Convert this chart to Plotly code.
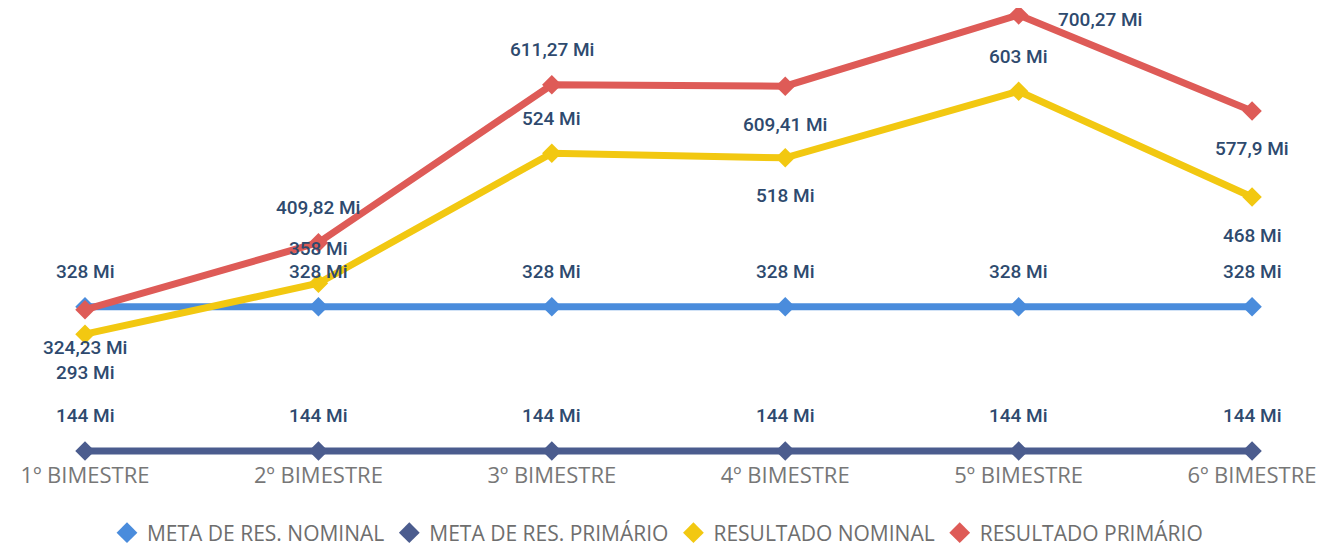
import plotly.graph_objects as go

# categorias e valores (em milhões)
bimestres = ["1º BIMESTRE", "2º BIMESTRE", "3º BIMESTRE", "4º BIMESTRE", "5º BIMESTRE", "6º BIMESTRE"]
meta_nominal = [328, 328, 328, 328, 328, 328]
meta_primario = [144, 144, 144, 144, 144, 144]
resultado_nominal = [293, 358, 524, 518, 603, 468]
resultado_primario = [324.23, 409.82, 611.27, 609.41, 700.27, 577.9]

# onde fica o rótulo de cada ponto
pos_meta_nominal = ["up"] * 6
pos_meta_primario = ["up"] * 6
pos_res_nominal = ["down", "up", "up", "down", "up", "down"]
pos_res_primario = ["down", "up", "up", "down", "right", "down"]

series = [
    ("META DE RES. NOMINAL", meta_nominal, "#4A8CDC", pos_meta_nominal),
    ("META DE RES. PRIMÁRIO", meta_primario, "#4B5C8E", pos_meta_primario),
    ("RESULTADO NOMINAL", resultado_nominal, "#F2C811", pos_res_nominal),
    ("RESULTADO PRIMÁRIO", resultado_primario, "#DE5B57", pos_res_primario),
]


def fmt(v):
    s = ("%.2f" % v).rstrip("0").rstrip(".")
    return s.replace(".", ",") + " Mi"


fig = go.Figure()
annotations = []
label_font = dict(family="Roboto", size=19, color="#2E4A6E", weight=500)

for name, vals, cor, pos in series:
    fig.add_trace(go.Scatter(
        x=list(range(len(bimestres))), y=vals, mode="lines+markers",
        line=dict(color=cor, width=7),
        marker=dict(symbol="diamond", size=15, color=cor),
        showlegend=False, hoverinfo="skip", cliponaxis=False,
    ))
    # só para a legenda (losango sem linha)
    fig.add_trace(go.Scatter(
        x=[None], y=[None], mode="markers", name=name,
        marker=dict(symbol="diamond", size=18, color=cor),
    ))
    for i, (v, p) in enumerate(zip(vals, pos)):
        a = dict(x=i, y=v, xref="x", yref="y", text=fmt(v), showarrow=False,
                 font=label_font, yanchor="middle")
        if p == "up":
            a["yshift"] = 35
        elif p == "down":
            a["yshift"] = -38
        else:
            a["xanchor"] = "left"
            a["xshift"] = 37
            a["yshift"] = -4
        annotations.append(a)

fig.update_layout(
    width=1329, height=547,
    margin=dict(l=0, r=0, t=0, b=95, autoexpand=False),
    paper_bgcolor="white", plot_bgcolor="white",
    annotations=annotations,
    legend=dict(orientation="h", x=0.4887, xanchor="center", y=-0.1615, yanchor="middle",
                font=dict(family="Open Sans", size=21, color="#6E6E6E"),
                itemwidth=30, tracegroupgap=0),
)
fig.update_xaxes(
    range=[-0.330, 5.364], showgrid=False, zeroline=False, showline=False,
    tickmode="array", tickvals=list(range(len(bimestres))), ticktext=bimestres,
    tickfont=dict(family="Open Sans", size=22, color="#777777"), ticks="",
)
fig.update_yaxes(range=[132.5, 709.2], visible=False)

fig.write_html("out.html")
